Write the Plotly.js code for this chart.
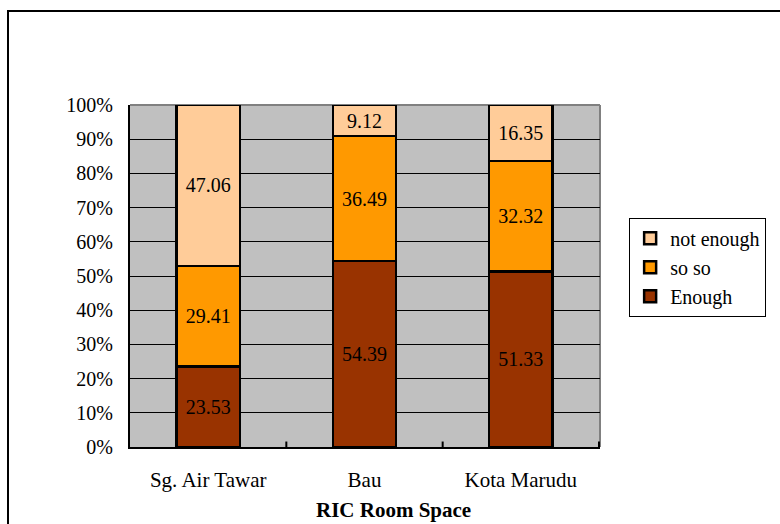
<!DOCTYPE html>
<html>
<head>
<meta charset="utf-8">
<script src="https://cdn.plot.ly/plotly-3.0.1.min.js"></script>
<style>
  html, body { margin: 0; padding: 0; background: #fff; }
  #wrap { position: relative; width: 780px; height: 524px; overflow: hidden; }
  #frame { position: absolute; left: 7px; top: 10px; width: 800px; height: 540px;
           border: 2px solid #000; box-sizing: border-box; pointer-events: none; }
  #chart { position: absolute; left: 0; top: 0; width: 780px; height: 524px; }
</style>
</head>
<body>
<div id="wrap">
  <div id="chart"></div>
  <div id="frame"></div>
</div>
<script>
// RIC room space survey, percentage of respondents per site
const sites = ['Sg. Air Tawar', 'Bau', 'Kota Marudu'];
const enough = [23.53, 54.39, 51.33];
const soSo = [29.41, 36.49, 32.32];
const notEnough = [47.06, 9.12, 16.35];
const yTicks = [0, 10, 20, 30, 40, 50, 60, 70, 80, 90, 100];
const yTickText = yTicks.map(v => v + '%');

const serif = 'Liberation Serif, Times New Roman, serif';

function series(name, vals, color) {
  return {
    type: 'bar',
    name: name,
    x: sites,
    y: vals,
    text: vals.map(v => v.toFixed(2)),
    textposition: 'inside',
    insidetextanchor: 'middle',
    constraintext: 'none',
    textfont: { family: serif, size: 20, color: '#000' },
    marker: { color: color, line: { color: '#000', width: 2.5 } },
    hoverinfo: 'none'
  };
}

const data = [
  series('Enough', enough, '#993300'),
  series('so so', soSo, '#FF9900'),
  series('not enough', notEnough, '#FFCC99')
];

const layout = {
  width: 780,
  height: 524,
  margin: { l: 130, r: 180, t: 105, b: 77 },
  paper_bgcolor: 'rgba(0,0,0,0)',
  plot_bgcolor: '#C0C0C0',
  barmode: 'stack',
  bargap: 0.595,
  font: { family: serif, size: 20, color: '#000' },
  showlegend: true,
  legend: {
    x: 1.062, xanchor: 'left',
    y: 0.67, yanchor: 'top',
    traceorder: 'reversed',
    bgcolor: '#fff',
    bordercolor: '#000',
    borderwidth: 1,
    font: { family: serif, size: 20, color: '#000' },
    itemwidth: 30,
    tracegroupgap: 0
  },
  xaxis: {
    type: 'category',
    showline: true, linecolor: '#000', linewidth: 2,
    showgrid: false,
    ticks: '',
    tickfont: { family: serif, size: 21 },
    ticklabelstandoff: 13
  },
  yaxis: {
    range: [0, 100],
    tickvals: yTicks,
    ticktext: yTickText,
    showline: true, linecolor: '#000', linewidth: 2,
    showgrid: true, gridcolor: '#000', gridwidth: 1,
    zeroline: false,
    ticks: '',
    ticklabelstandoff: 11,
    tickfont: { family: serif, size: 20 }
  },
  annotations: [
    { text: '<b>RIC Room Space</b>', xref: 'paper', yref: 'paper',
      x: 0.5617, y: -0.184, xanchor: 'center', yanchor: 'middle',
      showarrow: false, font: { family: serif, size: 21, color: '#000' } }
  ],
  shapes: [
    // plot-area outline on the top and right
    { type: 'line', xref: 'paper', yref: 'paper', x0: 0, x1: 1, y0: 1, y1: 1,
      line: { color: '#808080', width: 2 }, layer: 'below' },
    { type: 'line', xref: 'paper', yref: 'paper', x0: 1, x1: 1, y0: 0, y1: 1,
      line: { color: '#808080', width: 2 }, layer: 'below' },
    // category separator ticks on the x axis
    ...[0.5, 1.5, 2.5].map(p => ({
      type: 'line', xref: 'x', yref: 'paper', x0: p, x1: p, y0: 0, y1: 0.016,
      line: { color: '#000', width: 2 }
    }))
  ]
};

Plotly.newPlot('chart', data, layout, { staticPlot: true, displayModeBar: false });
</script>
</body>
</html>
